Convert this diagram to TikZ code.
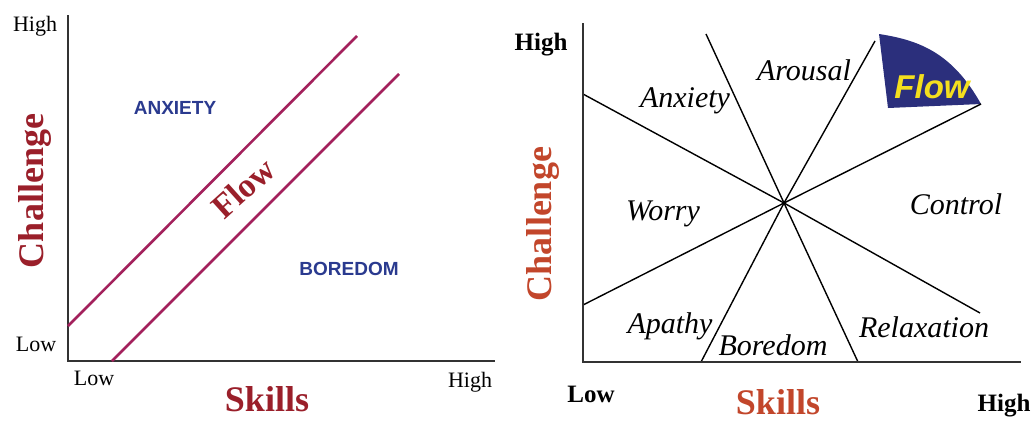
\documentclass[tikz,border=0pt]{standalone}
\usepackage{fontspec}
\setmainfont{Liberation Serif}
\newfontfamily\arialfont{Liberation Sans}
\definecolor{leftred}{HTML}{9A1F2A}
\definecolor{magline}{HTML}{A3215C}
\definecolor{anxblue}{HTML}{2A3A8F}
\definecolor{rightred}{HTML}{C2462B}
\definecolor{navy}{HTML}{2B2F7C}
\definecolor{flowyellow}{HTML}{F4DF1E}
\newcommand{\fs}[1]{\fontsize{#1}{#1}\selectfont}
\begin{document}
\begin{tikzpicture}[x=1pt,y=-1pt,
  axis/.style={draw=black!80, line width=1.5pt},
  maglinestyle/.style={draw=magline, line width=2.6pt},
  zoneline/.style={draw=black, line width=1.4pt},
  lbl/.style={inner sep=0pt, anchor=base},
  tick/.style={lbl, font=\fs{22}},
  tickb/.style={lbl, font=\bfseries\fs{25}},
  zone/.style={lbl, font=\itshape\fs{30}},
  caps/.style={lbl, font=\arialfont\bfseries\fs{19}, text=anxblue},
]
\useasboundingbox (0,0) rectangle (1035,421);
\fill[white] (0,0) rectangle (1035,421);

% ---------- left diagram ----------
\coordinate (Lo) at (68,361);
\coordinate (Ltop) at (68,15);
\coordinate (Lright) at (495,361);
\draw[axis] (Ltop) -- (Lo) -- (Lright);
\coordinate (u1) at (68,326);
\coordinate (u2) at (357,36);
\coordinate (l1) at (112,361);
\coordinate (l2) at (399,74);
\draw[maglinestyle] (u1) -- (u2);
\draw[maglinestyle] (l1) -- (l2);

\node[tick] (lhigh) at (35,31) {High};
\node[tick] (llow) at (36,351) {Low};
\node[tick] (lxlow) at (94,385) {Low};
\node[tick] (lxhigh) at (470,387) {High};
\node[lbl, font=\bfseries\fs{36}, text=leftred] (lskills) at (267,411) {Skills};
\node[lbl, font=\bfseries\fs{36}, text=leftred, rotate=90] (lchal) at (43,191) {Challenge};
\node[caps] (anx) at (175,114) {ANXIETY};
\node[caps] (bor) at (349,275) {BOREDOM};
\node[inner sep=0pt, font=\bfseries\fs{34}, text=leftred, rotate=42] (lflow) at (243,188) {Flow};

% ---------- right diagram ----------
\coordinate (Ro) at (583,362);
\coordinate (Rtop) at (583,23);
\coordinate (Rright) at (1021,362);
\coordinate (C) at (784,203);
\coordinate (a1) at (583,94);
\coordinate (a2) at (980,313);
\coordinate (b1) at (706,34);
\coordinate (b2) at (858,362);
\coordinate (c1) at (701,362);
\coordinate (c2) at (875,41);
\coordinate (d1) at (583,305);
\coordinate (d2) at (981,104);

\fill[navy] (879,34) .. controls (918,40) and (952,52) .. (d2) -- (888,108) -- cycle;
\node[lbl, font=\arialfont\bfseries\itshape\fs{33}, text=flowyellow] (rflow) at (932,98) {Flow};

\draw[zoneline] (a1) -- (C) -- (a2);
\draw[zoneline] (b1) -- (C) -- (b2);
\draw[zoneline] (c1) -- (C) -- (c2);
\draw[zoneline] (d1) -- (C) -- (d2);
\draw[axis] (Rtop) -- (Ro) -- (Rright);

\node[tickb] (rhigh) at (541,50) {High};
\node[tickb] (rlow) at (591,402) {Low};
\node[tickb] (rxhigh) at (1004,411) {High};
\node[lbl, font=\bfseries\fs{36}, text=rightred] (rskills) at (778,414) {Skills};
\node[lbl, font=\bfseries\fs{36}, text=rightred, rotate=90] (rchal) at (551,224) {Challenge};

\node[zone] (arousal) at (804,80) {Arousal};
\node[zone] (ranx) at (685,107) {Anxiety};
\node[zone] (worry) at (663,220) {Worry};
\node[zone] (control) at (956,214) {Control};
\node[zone] (apathy) at (670,333) {Apathy};
\node[zone] (rbor) at (773,355) {Boredom};
\node[zone] (relax) at (924,337) {Relaxation};
\end{tikzpicture}
\end{document}
